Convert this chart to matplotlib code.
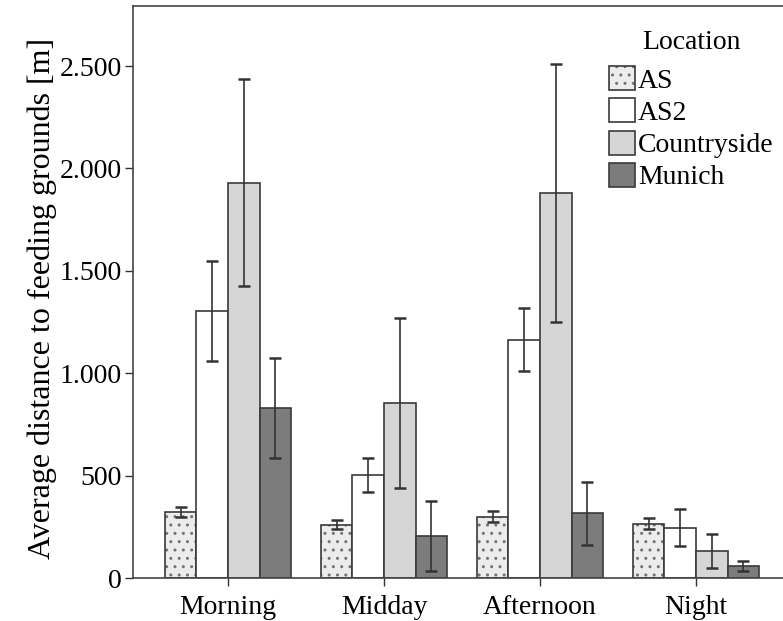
import matplotlib
matplotlib.use("Agg")
import matplotlib.pyplot as plt
import numpy as np

plt.rcParams['font.family'] = ['Liberation Serif', 'DejaVu Serif']
plt.rcParams['hatch.linewidth'] = 1.0

periods = ["Morning", "Midday", "Afternoon", "Night"]
locations = ["AS", "AS2", "Countryside", "Munich"]

means = {
    "AS":          [322, 260, 300, 262],
    "AS2":         [1305, 503, 1162, 244],
    "Countryside": [1930, 855, 1880, 132],
    "Munich":      [830, 205, 315, 59],
}
err_low = {
    "AS":          [298, 240, 275, 238],
    "AS2":         [1058, 420, 1010, 156],
    "Countryside": [1428, 440, 1250, 50],
    "Munich":      [585, 35, 160, 36],
}
err_high = {
    "AS":          [347, 285, 328, 292],
    "AS2":         [1550, 585, 1318, 336],
    "Countryside": [2435, 1268, 2510, 213],
    "Munich":      [1072, 375, 470, 82],
}
yticks = [0, 500, 1000, 1500, 2000, 2500]
ytick_labels = ["0", "500", "1.000", "1.500", "2.000", "2.500"]

colors = {"AS": "#ececec", "AS2": "#ffffff", "Countryside": "#d6d6d6", "Munich": "#7c7c7c"}
hatches = {"AS": "..", "AS2": None, "Countryside": None, "Munich": None}

fig = plt.figure(figsize=(7.83, 6.21), dpi=100)
ax = fig.add_axes([133/783, 43/621, (791-133)/783, (578-6)/621])

x = np.arange(len(periods))
w = 0.202
edge = "#3a3a3a"
for i, loc in enumerate(locations):
    pos = x + (i - 1.5) * w
    m = np.array(means[loc])
    lo = m - np.array(err_low[loc])
    hi = np.array(err_high[loc]) - m
    bars = ax.bar(pos, m, width=w, color=colors[loc], edgecolor=edge, linewidth=1.2,
                  hatch=hatches[loc], label=loc, zorder=2)
    if hatches[loc]:
        for b in bars:
            b._hatch_color = (0.45, 0.45, 0.45, 1.0)
    ax.errorbar(pos, m, yerr=[lo, hi], fmt='none', ecolor="#333333", elinewidth=1.2,
                capsize=4, capthick=1.8, zorder=3)

ax.set_xlim(-0.609, 3.609)
ax.set_ylim(0, 2793)
ax.set_xticks(x)
ax.set_xticklabels(periods, fontsize=20)
ax.set_yticks(yticks)
ax.set_yticklabels(ytick_labels, fontsize=20)
ax.tick_params(axis='both', direction='out', length=6, width=1.0, color="#333333")
ax.tick_params(axis='x', pad=6)
ax.tick_params(axis='y', pad=2)
for s in ["left", "bottom", "top"]:
    ax.spines[s].set_color("#444444")
    ax.spines[s].set_linewidth(1.2)
ax.spines["right"].set_visible(False)
ax.set_ylabel("Average distance to feeding grounds [m]", fontsize=23, labelpad=6)
ax.yaxis.set_label_coords(-0.115, 0.488)

leg = ax.legend(loc="upper left", bbox_to_anchor=(609/783, 1 - 30/621),
                bbox_transform=fig.transFigure, frameon=False, title="Location",
                fontsize=20, title_fontsize=20, handlelength=0.95, handleheight=0.95,
                handletextpad=0.1, labelspacing=0.17, borderaxespad=0, borderpad=0)
leg._legend_box.sep = 8
for p in leg.get_patches():
    if p.get_hatch():
        p._hatch_color = (0.45, 0.45, 0.45, 1.0)

fig.savefig("out.png", dpi=100)
